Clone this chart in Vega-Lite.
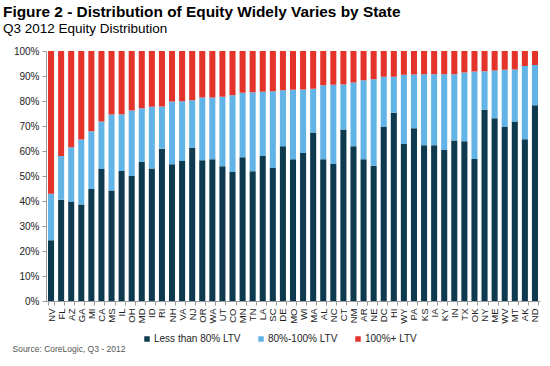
{
  "$schema": "https://vega.github.io/schema/vega-lite/v6.json",
  "width": 494,
  "height": 250,
  "autosize": {"type": "none"},
  "padding": {"left": 46, "top": 51, "right": 10, "bottom": 65},
  "background": "white",
  "config": {
    "font": "Liberation Sans",
    "view": {"stroke": null}
  },
  "title": {
    "text": "Figure 2 - Distribution of Equity Widely Varies by State",
    "subtitle": "Q3 2012 Equity Distribution",
    "anchor": "start",
    "frame": "group",
    "dx": -43,
    "offset": 11,
    "fontSize": 15.4,
    "fontWeight": "bold",
    "color": "#000000",
    "subtitleFontSize": 13.5,
    "subtitleColor": "#000000",
    "subtitlePadding": 1
  },
  "data": {
    "values": [
      {"state": "NV", "Less than 80% LTV": 24.3, "80%-100% LTV": 18.6, "100%+ LTV": 57.1},
      {"state": "FL", "Less than 80% LTV": 40.5, "80%-100% LTV": 17.5, "100%+ LTV": 42.0},
      {"state": "AZ", "Less than 80% LTV": 39.8, "80%-100% LTV": 21.7, "100%+ LTV": 38.5},
      {"state": "GA", "Less than 80% LTV": 38.6, "80%-100% LTV": 26.0, "100%+ LTV": 35.4},
      {"state": "MI", "Less than 80% LTV": 44.8, "80%-100% LTV": 23.1, "100%+ LTV": 32.1},
      {"state": "CA", "Less than 80% LTV": 52.8, "80%-100% LTV": 19.0, "100%+ LTV": 28.2},
      {"state": "MS", "Less than 80% LTV": 44.2, "80%-100% LTV": 30.4, "100%+ LTV": 25.4},
      {"state": "IL", "Less than 80% LTV": 52.0, "80%-100% LTV": 22.7, "100%+ LTV": 25.3},
      {"state": "OH", "Less than 80% LTV": 50.0, "80%-100% LTV": 26.2, "100%+ LTV": 23.8},
      {"state": "MD", "Less than 80% LTV": 55.7, "80%-100% LTV": 21.4, "100%+ LTV": 22.9},
      {"state": "ID", "Less than 80% LTV": 53.0, "80%-100% LTV": 24.7, "100%+ LTV": 22.3},
      {"state": "RI", "Less than 80% LTV": 60.9, "80%-100% LTV": 16.9, "100%+ LTV": 22.2},
      {"state": "NH", "Less than 80% LTV": 54.7, "80%-100% LTV": 25.1, "100%+ LTV": 20.2},
      {"state": "VA", "Less than 80% LTV": 56.0, "80%-100% LTV": 23.9, "100%+ LTV": 20.1},
      {"state": "NJ", "Less than 80% LTV": 61.3, "80%-100% LTV": 19.0, "100%+ LTV": 19.7},
      {"state": "OR", "Less than 80% LTV": 56.3, "80%-100% LTV": 25.1, "100%+ LTV": 18.6},
      {"state": "WA", "Less than 80% LTV": 56.7, "80%-100% LTV": 24.7, "100%+ LTV": 18.6},
      {"state": "UT", "Less than 80% LTV": 53.9, "80%-100% LTV": 27.8, "100%+ LTV": 18.3},
      {"state": "CO", "Less than 80% LTV": 51.6, "80%-100% LTV": 30.7, "100%+ LTV": 17.7},
      {"state": "MN", "Less than 80% LTV": 57.5, "80%-100% LTV": 25.8, "100%+ LTV": 16.7},
      {"state": "TN", "Less than 80% LTV": 51.9, "80%-100% LTV": 31.6, "100%+ LTV": 16.5},
      {"state": "LA", "Less than 80% LTV": 58.0, "80%-100% LTV": 25.7, "100%+ LTV": 16.3},
      {"state": "SC", "Less than 80% LTV": 53.2, "80%-100% LTV": 30.7, "100%+ LTV": 16.1},
      {"state": "DE", "Less than 80% LTV": 61.9, "80%-100% LTV": 22.4, "100%+ LTV": 15.7},
      {"state": "MO", "Less than 80% LTV": 56.7, "80%-100% LTV": 27.8, "100%+ LTV": 15.5},
      {"state": "WI", "Less than 80% LTV": 59.2, "80%-100% LTV": 25.4, "100%+ LTV": 15.4},
      {"state": "MA", "Less than 80% LTV": 67.4, "80%-100% LTV": 17.5, "100%+ LTV": 15.1},
      {"state": "AL", "Less than 80% LTV": 56.7, "80%-100% LTV": 29.6, "100%+ LTV": 13.7},
      {"state": "NC", "Less than 80% LTV": 54.8, "80%-100% LTV": 31.7, "100%+ LTV": 13.5},
      {"state": "CT", "Less than 80% LTV": 68.6, "80%-100% LTV": 18.0, "100%+ LTV": 13.4},
      {"state": "NM", "Less than 80% LTV": 61.9, "80%-100% LTV": 25.5, "100%+ LTV": 12.6},
      {"state": "AR", "Less than 80% LTV": 56.7, "80%-100% LTV": 31.6, "100%+ LTV": 11.7},
      {"state": "NE", "Less than 80% LTV": 54.1, "80%-100% LTV": 34.6, "100%+ LTV": 11.3},
      {"state": "DC", "Less than 80% LTV": 69.6, "80%-100% LTV": 20.1, "100%+ LTV": 10.3},
      {"state": "HI", "Less than 80% LTV": 75.3, "80%-100% LTV": 14.4, "100%+ LTV": 10.3},
      {"state": "WY", "Less than 80% LTV": 62.8, "80%-100% LTV": 27.7, "100%+ LTV": 9.5},
      {"state": "PA", "Less than 80% LTV": 69.1, "80%-100% LTV": 21.5, "100%+ LTV": 9.4},
      {"state": "KS", "Less than 80% LTV": 62.3, "80%-100% LTV": 28.4, "100%+ LTV": 9.3},
      {"state": "IA", "Less than 80% LTV": 62.3, "80%-100% LTV": 28.4, "100%+ LTV": 9.3},
      {"state": "KY", "Less than 80% LTV": 60.4, "80%-100% LTV": 30.3, "100%+ LTV": 9.3},
      {"state": "IN", "Less than 80% LTV": 64.2, "80%-100% LTV": 26.5, "100%+ LTV": 9.3},
      {"state": "TX", "Less than 80% LTV": 63.9, "80%-100% LTV": 27.5, "100%+ LTV": 8.6},
      {"state": "OK", "Less than 80% LTV": 56.8, "80%-100% LTV": 35.0, "100%+ LTV": 8.2},
      {"state": "NY", "Less than 80% LTV": 76.5, "80%-100% LTV": 15.4, "100%+ LTV": 8.1},
      {"state": "ME", "Less than 80% LTV": 73.1, "80%-100% LTV": 19.1, "100%+ LTV": 7.8},
      {"state": "WV", "Less than 80% LTV": 69.6, "80%-100% LTV": 22.9, "100%+ LTV": 7.5},
      {"state": "MT", "Less than 80% LTV": 71.8, "80%-100% LTV": 20.8, "100%+ LTV": 7.4},
      {"state": "AK", "Less than 80% LTV": 64.7, "80%-100% LTV": 29.3, "100%+ LTV": 6.0},
      {"state": "ND", "Less than 80% LTV": 78.3, "80%-100% LTV": 16.1, "100%+ LTV": 5.6}
    ]
  },
  "transform": [
    {"fold": ["Less than 80% LTV", "80%-100% LTV", "100%+ LTV"], "as": ["cat", "value"]}
  ],
  "mark": {"type": "bar"},
  "encoding": {
    "x": {
      "field": "state",
      "type": "nominal",
      "sort": null,
      "scale": {"paddingInner": 0.4, "paddingOuter": 0.2},
      "axis": {
        "title": "Source: CoreLogic, Q3 - 2012",
        "titleAnchor": "start",
        "titleX": -34,
        "titleY": 50,
        "titleBaseline": "alphabetic",
        "titleFontSize": 8.5,
        "titleFontWeight": "normal",
        "titleColor": "#555555",
        "labelAngle": -90,
        "labelFontSize": 9.5,
        "labelColor": "#222222",
        "labelPadding": 3,
        "tickBand": "extent",
        "tickSize": 4,
        "tickColor": "#9a9a9a",
        "domainColor": "#9a9a9a",
        "grid": false
      }
    },
    "y": {
      "field": "value",
      "type": "quantitative",
      "stack": "zero",
      "scale": {"domain": [0, 100], "nice": false},
      "axis": {
        "title": null,
        "values": [0, 10, 20, 30, 40, 50, 60, 70, 80, 90, 100],
        "labelExpr": "datum.value + '%'",
        "labelFontSize": 10,
        "labelColor": "#222222",
        "labelPadding": 3,
        "tickSize": 4,
        "tickColor": "#9a9a9a",
        "domainColor": "#9a9a9a",
        "grid": false
      }
    },
    "color": {
      "field": "cat",
      "type": "nominal",
      "sort": ["Less than 80% LTV", "80%-100% LTV", "100%+ LTV"],
      "scale": {
        "domain": ["Less than 80% LTV", "80%-100% LTV", "100%+ LTV"],
        "range": ["#0d3a4e", "#62b4e6", "#e4332b"]
      },
      "legend": {
        "title": null,
        "orient": "none",
        "direction": "horizontal",
        "legendX": 96,
        "legendY": 283,
        "symbolType": "square",
        "symbolSize": 30,
        "symbolStrokeWidth": 0,
        "labelFontSize": 10,
        "labelColor": "#222222",
        "labelOffset": 2,
        "columnPadding": 15
      }
    }
  }
}
